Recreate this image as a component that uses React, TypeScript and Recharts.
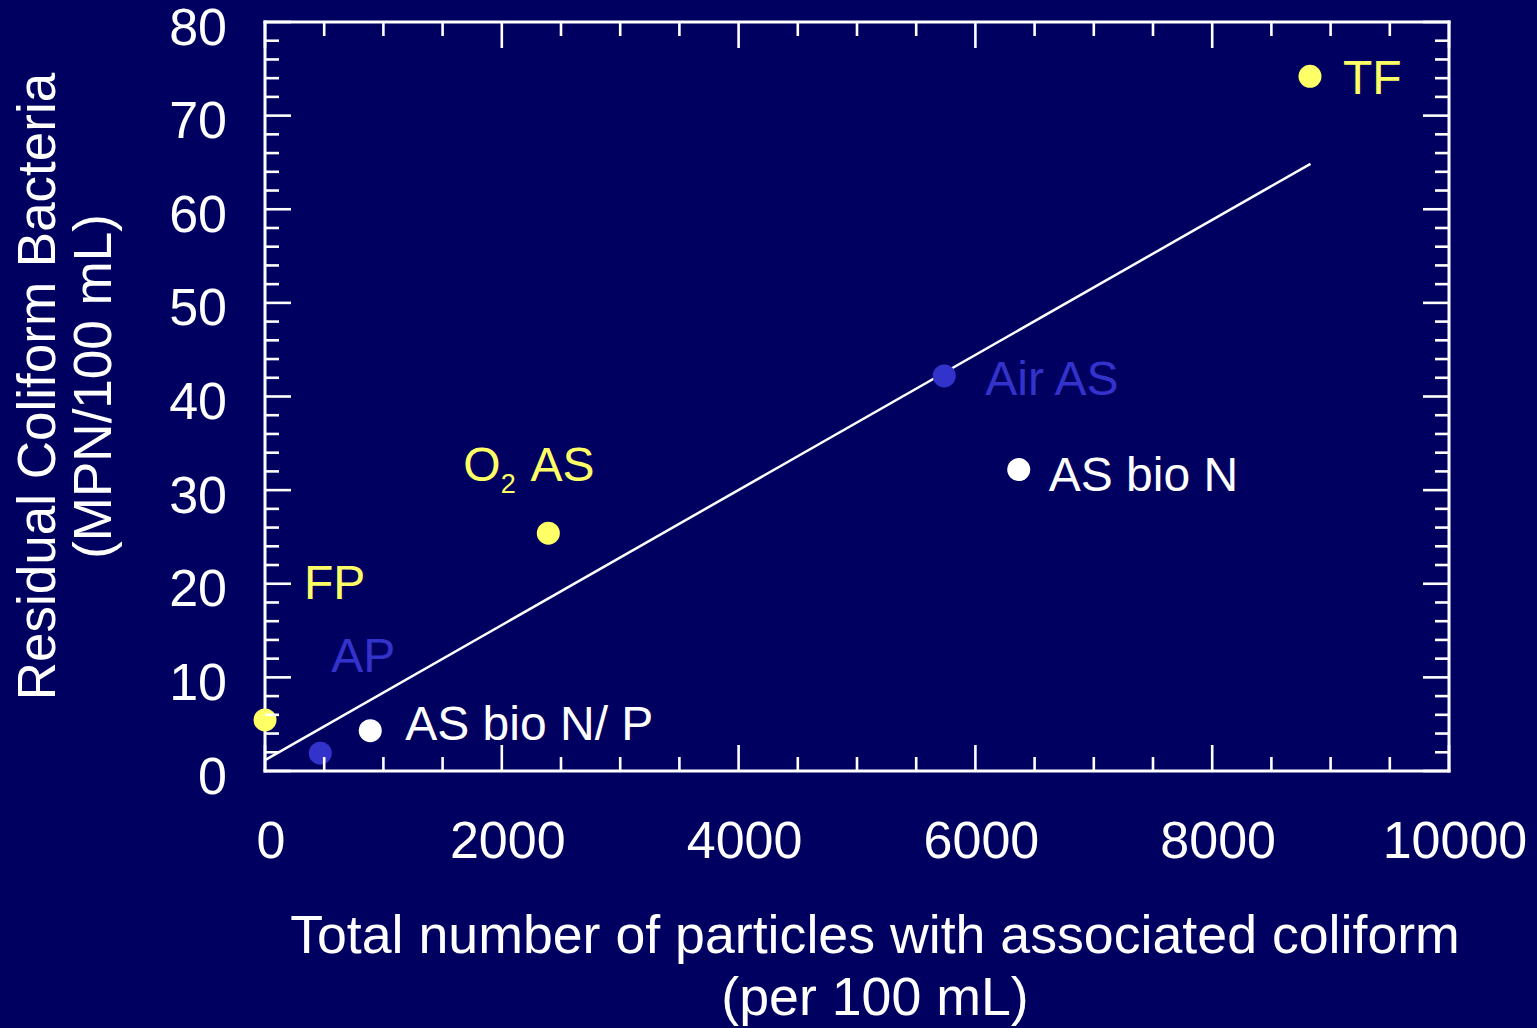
import React from 'react';
import { ScatterChart, Scatter, XAxis, YAxis, Label } from 'recharts';

// ---------- data ----------
const xTicks: number[] = [0, 500, 1000, 1500, 2000, 2500, 3000, 3500, 4000, 4500, 5000, 5500, 6000, 6500, 7000, 7500, 8000, 8500, 9000, 9500, 10000];
const xMajorTicks: number[] = [0, 2000, 4000, 6000, 8000, 10000];
const yTicks: number[] = [0, 2, 4, 6, 8, 10, 12, 14, 16, 18, 20, 22, 24, 26, 28, 30, 32, 34, 36, 38, 40, 42, 44, 46, 48, 50, 52, 54, 56, 58, 60, 62, 64, 66, 68, 70, 72, 74, 76, 78, 80];
const yMajorTicks: number[] = [0, 10, 20, 30, 40, 50, 60, 70, 80];

const yellowPoints = [
  { name: 'FP', x: 0, y: 5.45 },
  { name: 'O2 AS', x: 2393, y: 25.4 },
  { name: 'TF', x: 8826, y: 74.2 },
];
const bluePoints = [
  { name: 'AP', x: 467, y: 1.9 },
  { name: 'Air AS', x: 5737, y: 42.2 },
];
const whitePoints = [
  { name: 'AS bio N/ P', x: 889, y: 4.3 },
  { name: 'AS bio N', x: 6366, y: 32.2 },
];
const fitLine = [
  { x: 0, y: 1.17 },
  { x: 8830, y: 64.85 },
];

const xTitle = ['Total number of particles with associated coliform', '(per 100 mL)'];
const yTitle = ['Residual Coliform Bacteria', '(MPN/100 mL)'];

// ---------- styles ----------
const BG = '#000060';
const FONT = '"Liberation Sans", Arial, Helvetica, sans-serif';
const YELLOW = '#FFFF66';
const BLUE = '#3333CC';
const WHITE = '#FFFFFF';

const labelOffsets: Record<string, { dx: number; dy: number }> = {
  'FP': { dx: 39, dy: -121 },
  'AP': { dx: 11, dy: -81 },
  'AS bio N/ P': { dx: 35, dy: 9 },
  'O2 AS': { dx: -85, dy: -52 },
  'Air AS': { dx: 41, dy: 19 },
  'AS bio N': { dx: 30, dy: 21 },
  'TF': { dx: 33, dy: 18 },
};

const MAJOR_LEN = 26;
const MINOR_LEN = 14;

function makeTick(side: 'bottom' | 'top' | 'left' | 'right', majors: number[]) {
  return (props: any) => {
    const { x, y, payload } = props;
    const v = payload.value;
    const major = majors.includes(v);
    const len = major ? MAJOR_LEN : MINOR_LEN;
    let x2 = x, y2 = y;
    if (side === 'bottom') y2 = y - len;
    if (side === 'top') y2 = y + len;
    if (side === 'left') x2 = x + len;
    if (side === 'right') x2 = x - len;
    return (
      <g>
        <line x1={x} y1={y} x2={x2} y2={y2} stroke={WHITE} strokeWidth={2.6} />
        {major && side === 'bottom' && (
          <text x={x + 6} y={y + 87} textAnchor="middle" fill={WHITE} fontSize={52} fontFamily={FONT}>
            {v}
          </text>
        )}
        {major && side === 'left' && (
          <text x={x - 38} y={y + 22.5} textAnchor="end" fill={WHITE} fontSize={52} fontFamily={FONT}>
            {v}
          </text>
        )}
      </g>
    );
  };
}

function makeDot(color: string) {
  return (props: any) => {
    const { cx, cy, payload } = props;
    const off = labelOffsets[payload.name] || { dx: 30, dy: 18 };
    const tx = cx + off.dx;
    const ty = cy + off.dy;
    return (
      <g>
        <circle cx={cx} cy={cy} r={11.5} fill={color} />
        {payload.name === 'O2 AS' ? (
          <text x={tx} y={ty} fill={color} fontSize={48} fontFamily={FONT}>
            <tspan>O</tspan>
            <tspan fontSize={27} dy={12}>2</tspan>
            <tspan dy={-12} dx={4}> AS</tspan>
          </text>
        ) : (
          <text x={tx} y={ty} fill={color} fontSize={48} fontFamily={FONT}>
            {payload.name}
          </text>
        )}
      </g>
    );
  };
}

const XTitle = (props: any) => {
  const vb = props.viewBox || {};
  const cx = vb.x + vb.width / 2 + 18;
  return (
    <g>
      <text x={cx} y={vb.y + 182} textAnchor="middle" fill={WHITE} fontSize={53.7} fontFamily={FONT}>{xTitle[0]}</text>
      <text x={cx} y={vb.y + 244} textAnchor="middle" fill={WHITE} fontSize={53.7} fontFamily={FONT}>{xTitle[1]}</text>
    </g>
  );
};

const YTitle = (props: any) => {
  const vb = props.viewBox || {};
  const cy = vb.y + vb.height / 2 - 10;
  const right = vb.x + vb.width; // plot left edge
  const x1 = right - 210;
  const x2 = right - 154;
  return (
    <g>
      <text x={x1} y={cy} transform={`rotate(-90 ${x1} ${cy})`} textAnchor="middle" fill={WHITE} fontSize={53} fontFamily={FONT}>{yTitle[0]}</text>
      <text x={x2} y={cy} transform={`rotate(-90 ${x2} ${cy})`} textAnchor="middle" fill={WHITE} fontSize={53} fontFamily={FONT}>{yTitle[1]}</text>
    </g>
  );
};

const axisLine = { stroke: WHITE, strokeWidth: 3, strokeLinecap: 'square' as const };

export default function App() {
  return (
    <div style={{ position: 'absolute', left: 0, top: 0, width: 1537, height: 1028, background: BG, overflow: 'hidden' }}>
      <ScatterChart width={1537} height={1028} margin={{ left: 65, right: 87, top: 21, bottom: 57 }}>
        <XAxis
          xAxisId="b"
          orientation="bottom"
          type="number"
          dataKey="x"
          domain={[0, 10000]}
          ticks={xTicks}
          interval={0}
          height={200}
          tickLine={false}
          tickSize={0}
          tickMargin={0}
          axisLine={axisLine}
          tick={makeTick('bottom', xMajorTicks)}
        >
          <Label content={<XTitle />} />
        </XAxis>
        <XAxis
          xAxisId="t"
          orientation="top"
          type="number"
          dataKey="x"
          domain={[0, 10000]}
          ticks={xTicks}
          interval={0}
          allowDataOverflow
          height={1}
          tickLine={false}
          tickSize={0}
          tickMargin={0}
          axisLine={axisLine}
          tick={makeTick('top', xMajorTicks)}
        />
        <YAxis
          yAxisId="l"
          orientation="left"
          type="number"
          dataKey="y"
          domain={[0, 80]}
          ticks={yTicks}
          interval={0}
          width={200}
          tickLine={false}
          tickSize={0}
          tickMargin={0}
          axisLine={axisLine}
          tick={makeTick('left', yMajorTicks)}
        >
          <Label content={<YTitle />} />
        </YAxis>
        <YAxis
          yAxisId="r"
          orientation="right"
          type="number"
          dataKey="y"
          domain={[0, 80]}
          ticks={yTicks}
          interval={0}
          allowDataOverflow
          width={1}
          tickLine={false}
          tickSize={0}
          tickMargin={0}
          axisLine={axisLine}
          tick={makeTick('right', yMajorTicks)}
        />
        <Scatter
          xAxisId="b"
          yAxisId="l"
          data={fitLine}
          line={{ stroke: WHITE, strokeWidth: 2.5 }}
          shape={() => <g />}
          isAnimationActive={false}
        />
        <Scatter xAxisId="b" yAxisId="l" data={yellowPoints} shape={makeDot(YELLOW)} isAnimationActive={false} />
        <Scatter xAxisId="b" yAxisId="l" data={bluePoints} shape={makeDot(BLUE)} isAnimationActive={false} />
        <Scatter xAxisId="b" yAxisId="l" data={whitePoints} shape={makeDot(WHITE)} isAnimationActive={false} />
      </ScatterChart>
    </div>
  );
}
